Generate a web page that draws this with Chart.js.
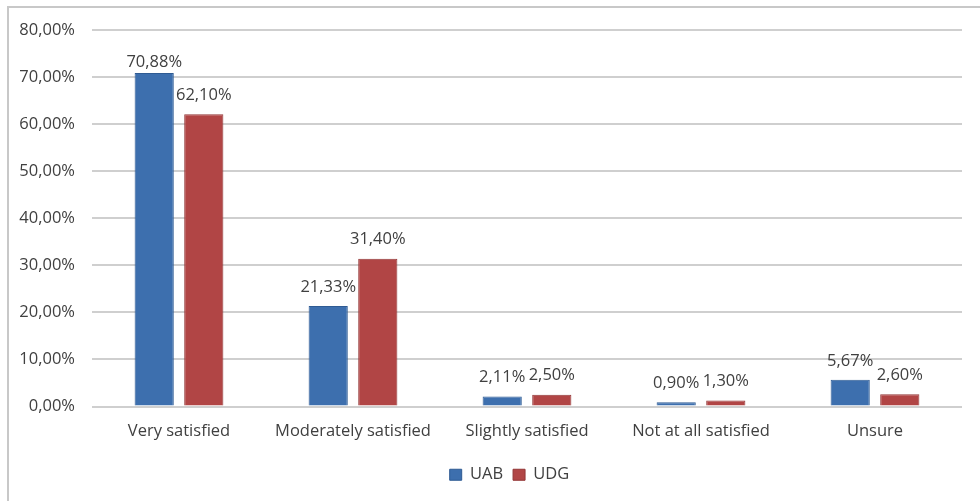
<!DOCTYPE html>
<html>
<head>
<meta charset="utf-8">
<script src="https://cdn.jsdelivr.net/npm/chart.js@4"></script>
<style>
  html, body { margin: 0; padding: 0; background: #fff; }
  #wrap { position: relative; width: 980px; height: 501px; overflow: hidden; }
  #frame { position: absolute; left: 7px; top: 6px; width: 1000px; height: 520px; border: 2px solid #c8c8c8; }
  canvas { position: absolute; left: 0; top: 0; }
</style>
</head>
<body>
<div id="wrap">
  <div id="frame"></div>
  <canvas id="chart" width="980" height="501"></canvas>
</div>
<script>
// données
const categories = ['Very satisfied', 'Moderately satisfied', 'Slightly satisfied', 'Not at all satisfied', 'Unsure'];
const uabValues = [70.88, 21.33, 2.11, 0.90, 5.67];
const udgValues = [62.10, 31.40, 2.50, 1.30, 2.60];
const seriesNames = ['UAB', 'UDG'];
const yMin = 0, yMax = 80, yStep = 10;

const fontFamily = '"Open Sans", sans-serif';
const fontSize = 16.5;
const textColor = '#404040';

// format "70,88%"
const fmt = v => v.toFixed(2).replace('.', ',') + '%';

// étiquettes de valeur au-dessus des barres
const valueLabels = {
    id: 'valueLabels',
    afterLayout(chart) {
        // légende un peu décalée vers la droite comme dans l'original
        chart.legend.left += 57;
    },
    afterDatasetsDraw(chart) {
        const ctx = chart.ctx;
        ctx.save();
        ctx.font = fontSize + 'px ' + fontFamily;
        ctx.fillStyle = textColor;
        ctx.textAlign = 'center';
        ctx.textBaseline = 'middle';
        chart.data.datasets.forEach((ds, i) => {
            chart.getDatasetMeta(i).data.forEach((bar, j) => {
                const y = Math.max(bar.y - 19, chart.chartArea.top + 32);
                ctx.fillText(fmt(ds.data[j]), bar.x, y);
            });
        });
        ctx.restore();
    }
};

const ctx = document.getElementById('chart').getContext('2d');
new Chart(ctx, {
    type: 'bar',
    data: {
        labels: categories,
        datasets: [
            {
                label: seriesNames[0],
                data: uabValues,
                backgroundColor: '#3d6fae',
                borderColor: '#2f5b93',
                borderWidth: 1,
                categoryPercentage: 0.57,
                barPercentage: 0.79
            },
            {
                label: seriesNames[1],
                data: udgValues,
                backgroundColor: '#b14545',
                borderColor: '#933636',
                borderWidth: 1,
                categoryPercentage: 0.57,
                barPercentage: 0.79
            }
        ]
    },
    options: {
        responsive: false,
        animation: false,
        layout: { padding: { left: 0, right: 18, top: 30, bottom: 8 } },
        plugins: {
            tooltip: { enabled: false },
            legend: {
                position: 'bottom',
                labels: {
                    boxWidth: 12,
                    boxHeight: 11,
                    padding: 10,
                    color: textColor,
                    font: { family: fontFamily, size: fontSize }
                }
            }
        },
        scales: {
            x: {
                grid: { display: false, drawTicks: false },
                border: { display: false },
                ticks: { color: textColor, padding: 15, font: { family: fontFamily, size: fontSize } },
                afterFit(scale) { scale.height = 50; }
            },
            y: {
                min: yMin,
                max: yMax,
                grid: { color: '#cfcfcf', lineWidth: 2, drawTicks: false },
                border: { display: false },
                ticks: {
                    stepSize: yStep,
                    color: textColor,
                    padding: 17,
                    font: { family: fontFamily, size: fontSize },
                    callback: v => fmt(v)
                },
                afterFit(scale) { scale.width = 92; }
            }
        }
    },
    plugins: [valueLabels]
});
</script>
</body>
</html>
